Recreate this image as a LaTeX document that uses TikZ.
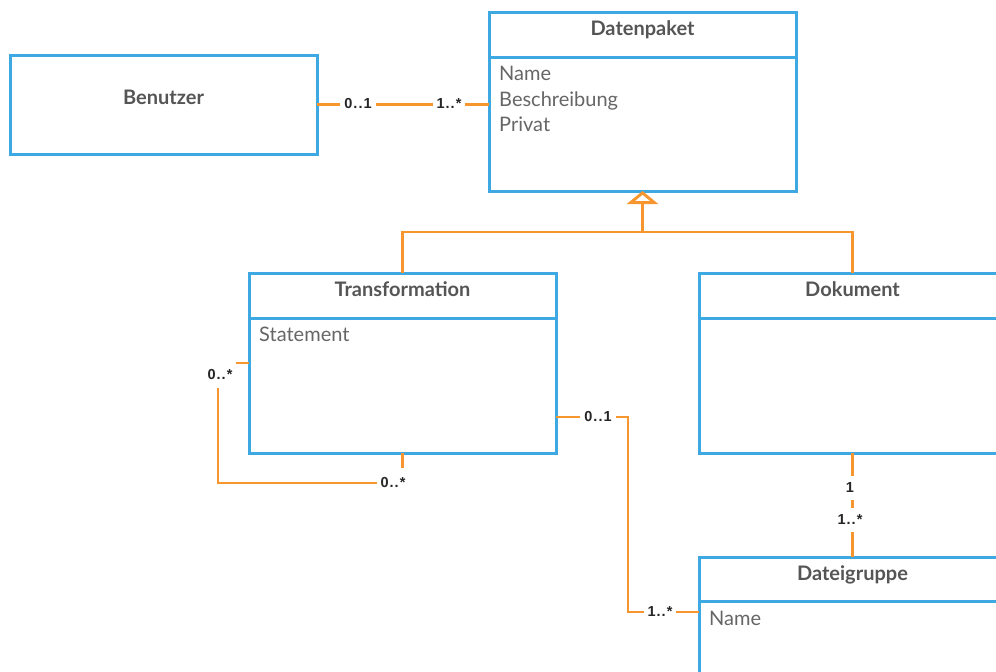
\documentclass[tikz,border=0pt]{standalone}
\usepackage{fontspec}
\setmainfont{Lato}
\newfontfamily\multfont{Liberation Sans}[LetterSpace=7]
\usetikzlibrary{arrows.meta}
\definecolor{umlblue}{HTML}{3DA8E2}
\definecolor{umlorange}{HTML}{F7952F}
\definecolor{titlegray}{HTML}{555555}
\definecolor{attrgray}{HTML}{666666}
\tikzset{
  classbox/.style={draw=umlblue, line width=3pt, fill=white, rectangle, anchor=north west, inner sep=0pt, outer sep=0pt},
  divider/.style={draw=umlblue, line width=3pt},
  classtitle/.style={anchor=base, font=\fontsize{20}{23}\selectfont\bfseries, text=titlegray, inner sep=0pt},
  attr/.style={anchor=base west, font=\fontsize{20}{23}\selectfont, text=attrgray, inner sep=0pt},
  assoc/.style={draw=umlorange, line width=2.9pt},
  generalization/.style={assoc, -{Triangle[open, length=13pt, width=31pt, fill=white]}},
  mult/.style={fill=white, inner xsep=4pt, inner ysep=6pt, font=\multfont\fontsize{14.5}{16}\selectfont\bfseries, text=black!85},
}
\begin{document}
\begin{tikzpicture}[x=1pt, y=-1pt]
\useasboundingbox (0,0) rectangle (996,672);
\clip (0,0) rectangle (996,672);

% classes
\node[classbox, minimum width=307pt, minimum height=99pt] (ben) at (10,55) {};
\node[classbox, minimum width=307pt, minimum height=179pt] (dp) at (489,12) {};
\node[classbox, minimum width=307pt, minimum height=180pt] (tr) at (249,273) {};
\node[classbox, minimum width=307pt, minimum height=180pt] (dok) at (699,273) {};
\node[classbox, minimum width=307pt, minimum height=160pt] (dg) at (699,557) {};

% compartment dividers
\draw[divider] (489,57) -- (796,57);
\draw[divider] (249,318) -- (556,318);
\draw[divider] (699,318) -- (1006,318);
\draw[divider] (699,601) -- (1006,601);

% titles
\node[classtitle] (benT) at (163.5,104.5) {Benutzer};
\node[classtitle] (dpT) at (642.5,35) {Datenpaket};
\node[classtitle] (trT) at (402.5,296) {Transformation};
\node[classtitle] (dokT) at (852.5,296) {Dokument};
\node[classtitle] (dgT) at (852.5,580) {Dateigruppe};

% attributes
\node[attr] (dpA1) at (499,80) {Name};
\node[attr] (dpA2) at (499,106) {Beschreibung};
\node[attr] (dpA3) at (499,131) {Privat};
\node[attr] (trA1) at (259,341) {Statement};
\node[attr] (dgA1) at (709,625) {Name};

% generalization
\coordinate (gj) at (642.5,232);
\draw[assoc] (tr.north) |- (gj) -| (dok.north);
\draw[generalization] (gj) -- (dp.south);

% associations
\draw[assoc] (ben.east) -- (dp.west |- ben.east);
\draw[assoc] (tr.west) -| (218,483) -| (tr.south);
\draw[assoc] (tr.east |- 0,417) -| (628,612) -- (dg.west |- 0,612);
\draw[assoc] (dok.south) -- (dg.north);

% multiplicities
\node[mult] (m1) at (358,104) {0..1};
\node[mult] (m2) at (449,104) {1..*};
\node[mult, minimum width=32pt, minimum height=26pt] (m3) at (220,375) {0..*};
\node[mult, minimum height=30pt] (m4) at (393,483) {0..*};
\node[mult] (m5) at (598,417) {0..1};
\node[mult] (m6) at (660,612) {1..*};
\node[mult, minimum height=24pt] (m7) at (850,488) {1};
\node[mult, minimum height=24pt] (m8) at (850,520) {1..*};
\end{tikzpicture}
\end{document}
